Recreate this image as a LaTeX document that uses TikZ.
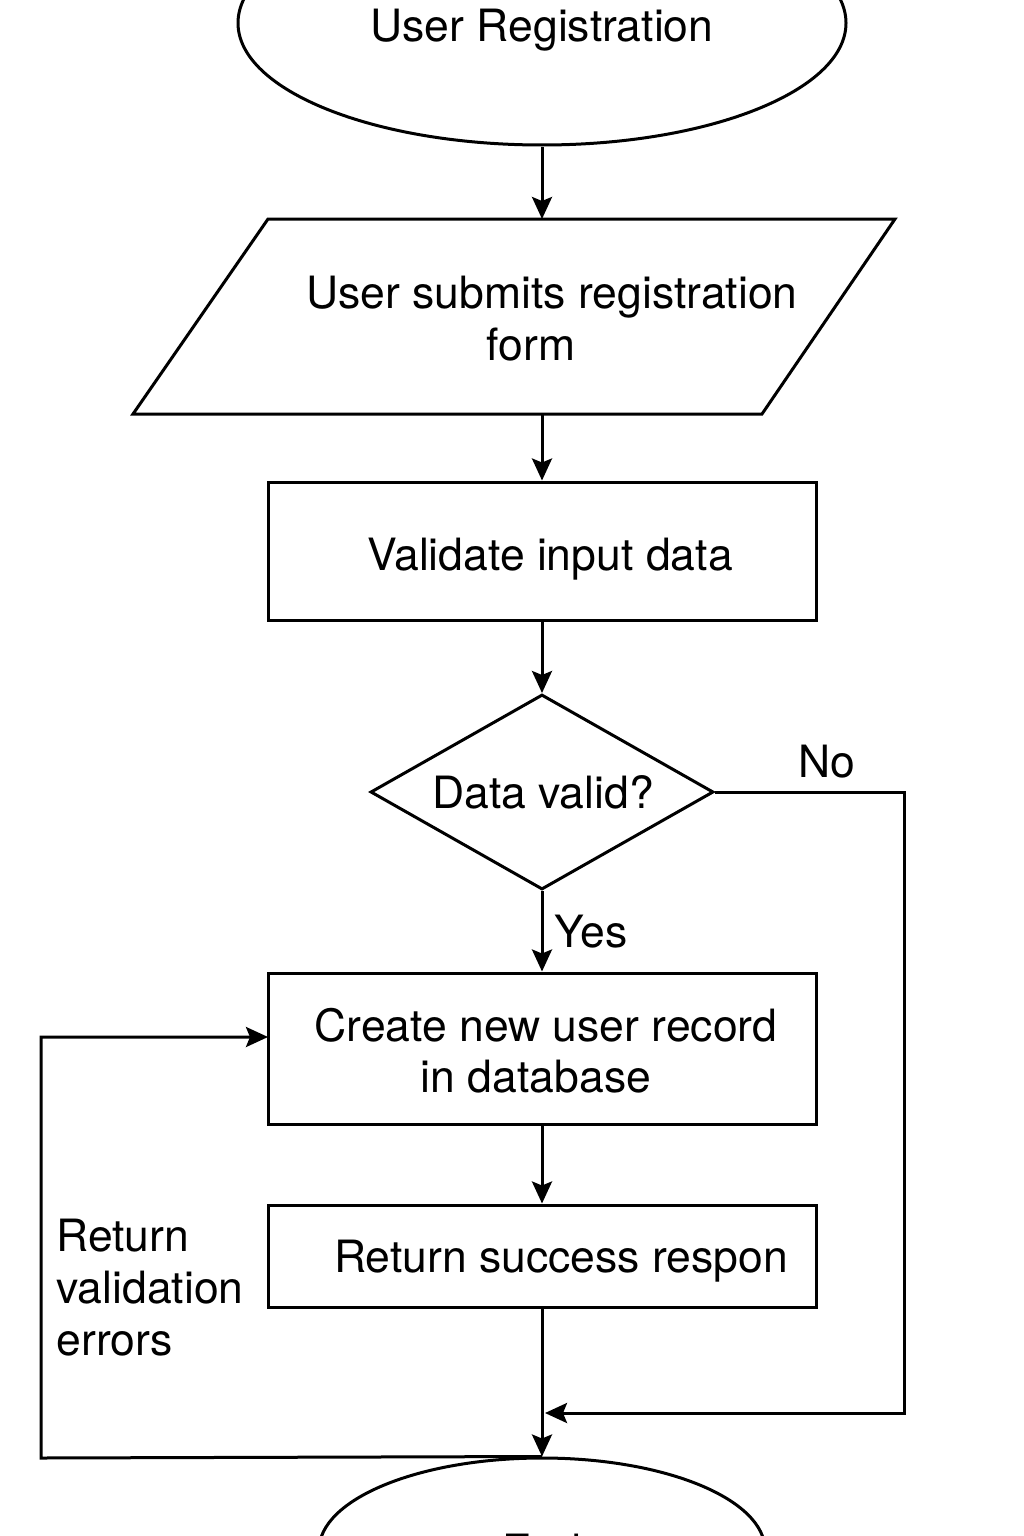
\documentclass[tikz,border=0pt]{standalone}
\usepackage{fontspec}
\setmainfont{TeX Gyre Heros}
\usetikzlibrary{arrows.meta,shapes.geometric}
\begin{document}
\begin{tikzpicture}[x=1pt,y=-1pt,
  line width=3pt,
  txt/.style={font=\fontsize{44.5}{52}\selectfont, inner sep=0pt, align=center},
  txtl/.style={font=\fontsize{44.5}{52}\selectfont, inner sep=0pt, align=left},
  boxnode/.style={draw, rectangle, inner sep=0pt},
  arr/.style={-{Stealth[length=22pt,width=20pt,inset=4pt]}},
  ]
\useasboundingbox (0,0) rectangle (1024,1536);
\begin{scope}
\clip (0,0) rectangle (1024,1536);
% start
\node[draw, ellipse, minimum width=608, minimum height=244, inner sep=0pt] (start) at (542,23) {};
\node[txt, anchor=base] (starttxt) at (542,42) {User Registration};
% parallelogram
\coordinate (pa) at (268,219);
\coordinate (pb) at (895,219);
\coordinate (pc) at (762,414);
\coordinate (pd) at (133,414);
\draw[line join=miter] (pa) -- (pb) -- (pc) -- (pd) -- cycle;
\coordinate (formtop) at (542,219);
\coordinate (formbot) at (542,414);
\node[txt, anchor=base] (formtxt1) at (552,308) {User submits registration};
\node[txt, anchor=base] (formtxt2) at (531,360) {form};
% validate
\node[boxnode, minimum width=548, minimum height=138] (validate) at (542,551) {};
\node[txt, anchor=base] (validatetxt) at (550,570) {Validate input data};
% decision
\node[draw, diamond, aspect=1.76, minimum width=343, minimum height=195, inner sep=0pt] (dec) at (542,792) {};
\node[txt, anchor=base] (dectxt) at (543,808) {Data valid?};
% create
\node[boxnode, minimum width=548, minimum height=151] (create) at (542,1048.5) {};
\node[txt, anchor=base] (createtxt1) at (546,1041) {Create new user record};
\node[txt, anchor=base] (createtxt2) at (536,1092) {in database};
% success
\node[boxnode, minimum width=548, minimum height=102] (success) at (542,1256) {};
\node[txt, anchor=base] (successtxt) at (561,1272) {Return success respon};
% end
\node[draw, ellipse, minimum width=446, minimum height=184, inner sep=0pt] (endn) at (542,1550) {};
\node[txt, anchor=base] (endtxt) at (542,1566) {End};
% labels
\node[txt, anchor=base] (yes) at (591,947) {Yes};
\node[txt, anchor=base] (no) at (827,777) {No};
\node[txtl, anchor=north west] (err) at (55,1218) {Return\\validation\\errors};
% connectors
\draw[arr] (start.south) -- (formtop);
\draw[arr] (formbot) -- (validate.north);
\draw[arr] (validate.south) -- (dec.north);
\draw[arr] (dec.south) -- (create.north);
\draw[arr] (create.south) -- (success.north);
\draw[arr] (success.south) -- (endn.north);
\coordinate (merge) at (545,1413);
\coordinate (noright) at (904,792);
\draw[arr, line join=miter] (dec.east) -- (noright) |- (merge);
\coordinate (loopl) at (41,1458);
\coordinate (createin) at (268,1037);
\draw[arr, line join=miter] (endn.north) -- (loopl) |- (createin);
\end{scope}
\end{tikzpicture}
\end{document}
